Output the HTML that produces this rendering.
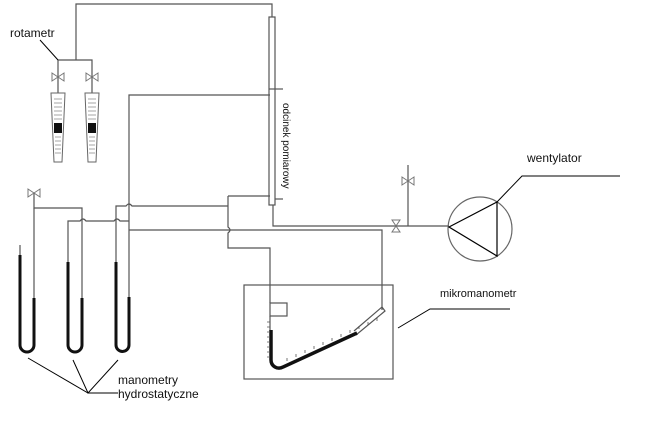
<!DOCTYPE html>
<html><head><meta charset="utf-8"><style>body{margin:0;background:#fff}svg{display:block}</style></head><body>
<svg width="651" height="432" viewBox="0 0 651 432" xmlns="http://www.w3.org/2000/svg" font-family="Liberation Sans, sans-serif">
<g fill="none" stroke="#555" stroke-width="1.2">
<polyline points="76,60 76,4 272,4 272,17"/>
<rect x="269" y="17" width="6" height="188" fill="#fff"/>
<line x1="269" y1="89" x2="283" y2="89"/>
<line x1="275" y1="199" x2="283" y2="199"/>
<polyline points="58,93 58,60 92,60 92,93"/>
<polyline points="270,95 129,95 129,253"/>
<path d="M116,253 V206 H126 q3,-4 6,0 H228"/>
<path d="M228,196 V227 q4,3 0,6 V248 H270 V303"/>
<polyline points="228,196 270,196"/>
<path d="M68,253 V221 H80 q3,-4 6,0 H114 q3,-4 6,0 H129"/>
<polyline points="34,193 34,208 82,208 82,253"/>
<line x1="34" y1="208" x2="34" y2="253"/>
<polyline points="129,230 382,230 382,310"/>
<polyline points="273,205 273,226 449,226"/>
<line x1="408" y1="165" x2="408" y2="226"/>
<rect x="244" y="285" width="149" height="94"/>
<rect x="270" y="303" width="17" height="13"/>
<line x1="270" y1="316" x2="270" y2="330"/>
<polyline points="356,335 385,311 382,307 354,331"/>
<line x1="20" y1="245" x2="20" y2="255"/>
</g>
<g fill="#fff" stroke="#777" stroke-width="1">
<path d="M52,73 L64,81 L64,73 L52,81 Z"/>
<path d="M86,73 L98,81 L98,73 L86,81 Z"/>
<path d="M28,189 L40,197 L40,189 L28,197 Z"/>
<path d="M402,177 L414,185 L414,177 L402,185 Z"/>
<path d="M392,220 L400,220 L392,232 L400,232 Z"/>
</g>
<g stroke="#666" fill="#fff" stroke-width="1">
<path d="M51,93 L65,93 L62,162 L54,162 Z"/>
<path d="M85,93 L99,93 L96,162 L88,162 Z"/>
</g>
<g stroke="#888" stroke-width="0.8">
<path d="M54,99h8M54,103h8M54,107h8M54,111h8M54,115h8M54,119h8M55,137h6M55,141h6M55,145h6M55,149h6M55,153h6"/>
<path d="M88,99h8M88,103h8M88,107h8M88,111h8M88,115h8M88,119h8M89,137h6M89,141h6M89,145h6M89,149h6M89,153h6"/>
</g>
<rect x="54" y="123" width="8" height="10" fill="#111"/>
<rect x="88" y="123" width="8" height="10" fill="#111"/>
<g fill="none" stroke="#111" stroke-width="3">
<path d="M20,255 V345 a7,7 0 0 0 14,0 V298"/>
<path d="M68,262 V345 a7,7 0 0 0 14,0 V298"/>
<path d="M116,262 V345 a6.5,6.5 0 0 0 13,0 V297"/>
</g>
<g stroke="#555" stroke-width="1.2"><line x1="68" y1="253" x2="68" y2="262"/><line x1="116" y1="253" x2="116" y2="262"/><line x1="129" y1="253" x2="129" y2="297"/><line x1="34" y1="253" x2="34" y2="298"/><line x1="82" y1="253" x2="82" y2="298"/></g>
<path d="M271,330 V360 a8,8 0 0 0 12,7 L357,333" fill="none" stroke="#111" stroke-width="3.5"/>
<g stroke="#555" stroke-width="0.8">
<path d="M267,322h3M267,327h3M267,332h3M267,337h3M267,342h3M267,347h3M267,352h3M267,357h3"/>
<path d="M287,361v-3M296,357v-3M305,353v-3M314,349v-3M323,345v-3M332,341v-3M341,337v-3M350,333v-3M359,329v-3M368,325v-3M377,321v-3"/>
</g>
<circle cx="480" cy="229" r="32" fill="none" stroke="#666" stroke-width="1.2"/>
<polygon points="449,227 497,202 497,256" fill="none" stroke="#000" stroke-width="1.2"/>
<g stroke="#000" stroke-width="1" fill="none">
<polyline points="497,202 522,176 620,176"/>
<polyline points="398,328 430,309 510,309"/>
<polyline points="40,40 58,60"/>
<polyline points="28,358 88,393 118,393"/>
<polyline points="73,360 88,393 118,360"/>
</g>
<g font-size="12" fill="#111">
<text x="10" y="37">rotametr</text>
<text x="527" y="162">wentylator</text>
<text x="440" y="297" font-size="11">mikromanometr</text>
<text x="118" y="384">manometry</text>
<text x="118" y="398">hydrostatyczne</text>
<text transform="translate(283,103) rotate(90)" font-size="10">odcinek pomiarowy</text>
</g>
</svg>
</body></html>
